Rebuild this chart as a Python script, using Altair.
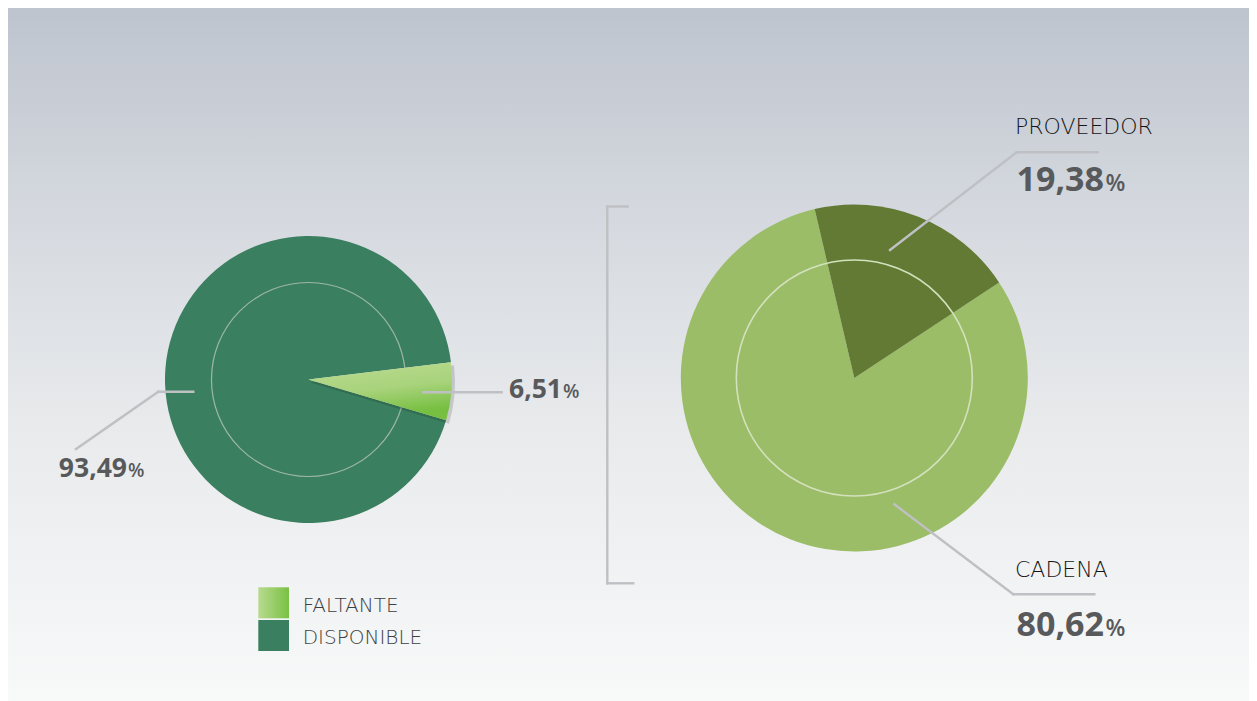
import math
import altair as alt
import pandas as pd

# ---------------- data ----------------
left_categories = ["FALTANTE", "DISPONIBLE"]
left_values = [6.51, 93.49]
left_labels = ["6,51", "93,49"]

right_categories = ["PROVEEDOR", "CADENA"]
right_values = [19.38, 80.62]
right_labels = ["19,38", "80,62"]

legend_categories = ["FALTANTE", "DISPONIBLE"]
percent_sign = "%"

# ---------------- layout / style ----------------
W, H = 1241, 693
TAU = 2 * math.pi
LEFT_C = (300.5, 371.5)
LEFT_R, LEFT_RING = 143.5, 97
LEFT_START = math.radians(83.1)
RIGHT_C = (846.3, 370)
RIGHT_R, RIGHT_RING = 173.5, 118
RIGHT_START = math.radians(346.8)

C_DISP = "#3a7f5f"
C_CADENA = "#9bbd67"
C_PROV = "#627a33"
LINE_C = "#bfc0c3"
NUM_C = "#58595b"
NAME_C = "#151515"
LEG_C = "#3e3f41"
FONT = "Open Sans"
NAME_FONT = "DejaVu Sans"

fal_grad = alt.Gradient(
    gradient="linear", x1=0, y1=0, x2=0.3, y2=1,
    stops=[alt.GradientStop(offset=0, color="#bcdc93"),
           alt.GradientStop(offset=0.55, color="#a9d37c"),
           alt.GradientStop(offset=1, color="#76bf40")])
fal_leg_grad = alt.Gradient(
    gradient="linear", x1=0, y1=0, x2=1, y2=0,
    stops=[alt.GradientStop(offset=0, color="#b9da90"),
           alt.GradientStop(offset=1, color="#79c143")])
bg_grad = alt.Gradient(
    gradient="linear", x1=0, y1=0, x2=0, y2=1,
    stops=[alt.GradientStop(offset=0, color="#bec4ce"),
           alt.GradientStop(offset=0.3, color="#d5d9df"),
           alt.GradientStop(offset=0.6, color="#e8eaec"),
           alt.GradientStop(offset=1, color="#f8f9f9")])

dummy = pd.DataFrame({"k": [0]})
left_df = pd.DataFrame({"cat": left_categories, "value": left_values, "ord": [0, 1]})
right_df = pd.DataFrame({"cat": right_categories, "value": right_values, "ord": [0, 1]})


def pie_layer(df, cat, start, center, radius, color, dx=0, dy=0, opacity=1.0):
    total = float(sum(df["value"]))
    return (
        alt.Chart(df)
        .transform_stack(stack="value", groupby=[], as_=["v0", "v1"],
                         sort=[alt.SortField("ord", order="ascending")])
        .transform_filter(alt.datum.cat == cat)
        .mark_arc(color=color, opacity=opacity, radius=radius,
                  x=center[0] + dx, y=center[1] + dy)
        .encode(
            theta=alt.Theta("v0:Q", scale=alt.Scale(domain=[0, total], range=[start, start + TAU])),
            theta2=alt.Theta2("v1:Q"),
        )
    )


def ring(center, radius, color, width):
    return alt.Chart(dummy).mark_arc(
        fillOpacity=0, stroke=color, strokeWidth=width, radius=radius,
        x=center[0], y=center[1]
    ).encode(theta=alt.value(0), theta2=alt.value(TAU))


def rule(x, y, x2, y2, width=2.4, color=LINE_C):
    return alt.Chart(dummy).mark_rule(color=color, strokeWidth=width, strokeCap="square").encode(
        x=alt.value(x), y=alt.value(y), x2=alt.value(x2), y2=alt.value(y2))


def text(s, x, y, size, weight, color, align="left", font=FONT):
    return alt.Chart(dummy).mark_text(
        font=font, fontSize=size, fontWeight=weight, color=color,
        align=align, baseline="alphabetic"
    ).encode(x=alt.value(x), y=alt.value(y), text=alt.value(s))


def rect(x, y, x2, y2, color):
    return alt.Chart(dummy).mark_rect(color=color).encode(
        x=alt.value(x), y=alt.value(y), x2=alt.value(x2), y2=alt.value(y2))


layers = [rect(0, 0, W, H, bg_grad)]

# left pie
layers += [
    pie_layer(left_df, left_categories[1], LEFT_START, LEFT_C, LEFT_R, C_DISP),
    ring(LEFT_C, LEFT_RING, "#9db7a6", 1.2),
    pie_layer(left_df, left_categories[0], LEFT_START, LEFT_C, LEFT_R + 1, "#000000", dx=2, dy=3, opacity=0.14),
    pie_layer(left_df, left_categories[0], LEFT_START, LEFT_C, LEFT_R, fal_grad),
]

# right pie
layers += [
    pie_layer(right_df, right_categories[1], RIGHT_START, RIGHT_C, RIGHT_R, C_CADENA),
    pie_layer(right_df, right_categories[0], RIGHT_START, RIGHT_C, RIGHT_R, C_PROV),
    ring(RIGHT_C, RIGHT_RING, "#d3e1bd", 1.6),
]

# leader lines
layers += [
    rule(185.3, 383.7, 150.3, 383.7), rule(150.3, 383.7, 68, 441),
    rule(415.3, 384.3, 493.7, 384.3),
    rule(882, 242, 1008.7, 144.3), rule(1008.7, 144.3, 1089.7, 144.3),
    rule(886.3, 496.3, 1005.3, 586.3), rule(1005.3, 586.3, 1086.3, 586.3),
    # bracket
    rule(599.3, 198.5, 599.3, 575.3), rule(599.3, 198.5, 619.7, 198.5), rule(599.3, 575.3, 625.3, 575.3),
]

# value labels
layers += [
    text(left_labels[1], 119, 468.7, 26.5, "bold", NUM_C, "right"),
    text(percent_sign, 120, 468.7, 19, 600, NUM_C),
    text(left_labels[0], 554, 390.3, 26.5, "bold", NUM_C, "right"),
    text(percent_sign, 555, 390.3, 19, 600, NUM_C),
    text(right_categories[0], 1007, 126.3, 22, 200, NAME_C, font=NAME_FONT),
    text(right_labels[0], 1096, 183, 34, "bold", NUM_C, "right"),
    text(percent_sign, 1097.5, 183, 23, 600, NUM_C),
    text(right_categories[1], 1007, 569.3, 22, 200, NAME_C, font=NAME_FONT),
    text(right_labels[1], 1096, 627.7, 34, "bold", NUM_C, "right"),
    text(percent_sign, 1097.5, 627.7, 23, 600, NUM_C),
]

# legend
leg_colors = [fal_leg_grad, C_DISP]
for i, cat in enumerate(legend_categories):
    y0 = 579.3 + i * 32.7
    layers.append(rect(250.3, y0, 281, y0 + 31, leg_colors[i]))
    layers.append(text(cat, 294.7, y0 + 24.4, 20, 200, LEG_C, font=NAME_FONT))

chart = (
    alt.layer(*layers)
    .resolve_scale(theta="independent")
    .properties(width=W, height=H, padding=0, autosize="none")
    .configure_view(stroke=None)
)

chart.save("out.html", embed_options={"renderer": "svg", "actions": False})
